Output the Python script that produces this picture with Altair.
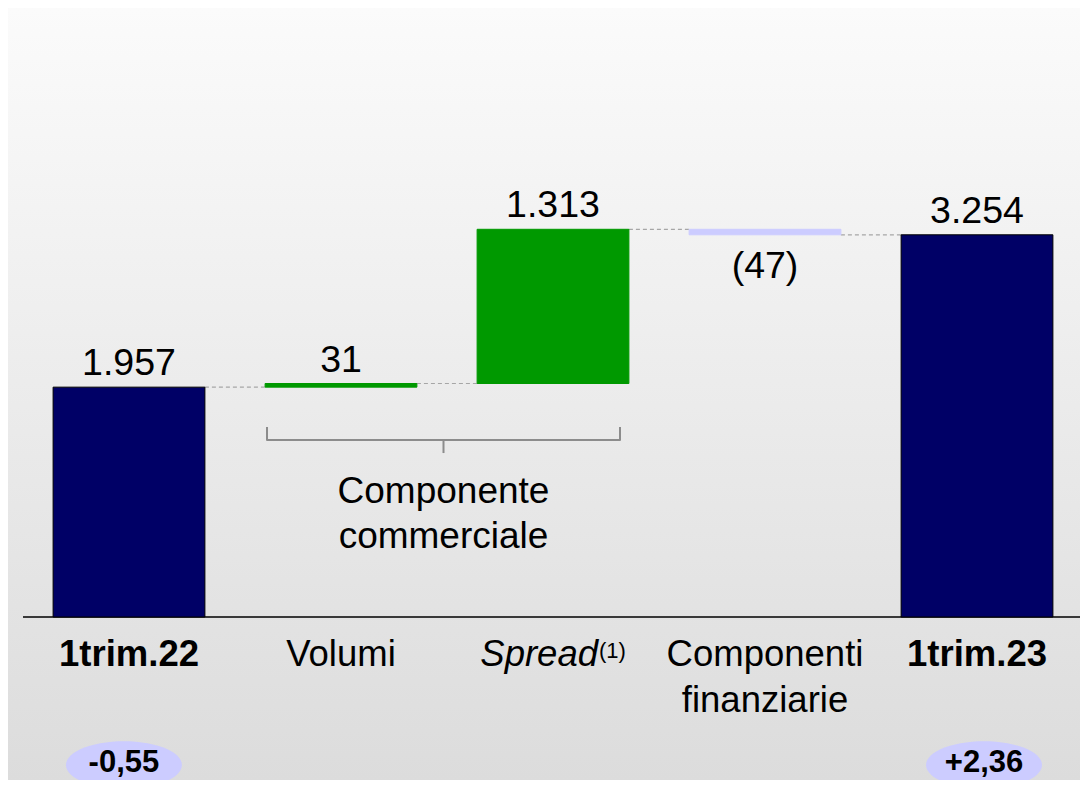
import altair as alt
import pandas as pd
import numpy as np

# ---------------- data ----------------
categories = ["1trim.22", "Volumi", "Spread", "Componenti finanziarie", "1trim.23"]
display_labels = ["1trim.22", "Volumi", "Spread", "Componenti\nfinanziarie", "1trim.23"]
values = [1957, 31, 1313, -47, 3254]
kinds = ["total", "delta", "delta", "delta", "total"]
value_labels = ["1.957", "31", "1.313", "(47)", "3.254"]
footnote_category = "Spread"
footnote_marker = "(1)"
group_label = "Componente\ncommerciale"
badge_categories = ["1trim.22", "1trim.23"]
badge_labels = ["-0,55", "+2,36"]

# ---------------- style / layout ----------------
FONT = "Liberation Sans"
HALF = 0.358                      # half bar width in category units
W, H = 1057, 609
X_DOMAIN = [-0.5, 4.4858]
Y_DOMAIN = [0, 5185]
xs = alt.Scale(domain=X_DOMAIN, nice=False, zero=False)
ys = alt.Scale(domain=Y_DOMAIN, nice=False, zero=False)
BADGE_SHIFT = {"1trim.22": -0.024, "1trim.23": 0.033}

# ---------------- derived tables ----------------
rows = []
running = 0
for i, (c, v, k, lab, disp) in enumerate(zip(categories, values, kinds, value_labels, display_labels)):
    if k == "total":
        start, end = 0, v
        kind = "total"
    else:
        start, end = running, running + v
        kind = "pos" if v >= 0 else "neg"
    running = end
    rows.append(dict(cat=c, disp=disp, idx=i, x0=i - HALF, x1=i + HALF,
                     start=start, end=end, top=max(start, end), bottom=min(start, end),
                     kind=kind, label=lab))
df = pd.DataFrame(rows)

conn = pd.DataFrame([
    dict(x0=rows[i]["idx"] + HALF, x1=rows[i + 1]["idx"] - HALF, y=rows[i]["end"])
    for i in range(len(rows) - 1)
])

# bracket under Volumi + Spread
bl, br = 0.651, 2.316
bm = (bl + br) / 2
bracket = pd.DataFrame([
    dict(seg="a", o=0, x=bl, y=1617), dict(seg="a", o=1, x=bl, y=1507),
    dict(seg="a", o=2, x=br, y=1507), dict(seg="a", o=3, x=br, y=1617),
    dict(seg="b", o=0, x=bm, y=1507), dict(seg="b", o=1, x=bm, y=1396),
])
group_df = pd.DataFrame([dict(x=bm, t=group_label)])

idx_of = {c: i for i, c in enumerate(categories)}
badges = pd.DataFrame([dict(x=idx_of[c] + BADGE_SHIFT[c], t=t) for c, t in zip(badge_categories, badge_labels)])
foot = pd.DataFrame([dict(x=idx_of[footnote_category], t=footnote_marker, name=footnote_category)])

# ellipse symbol path (unit box [-1,1])
ang = np.linspace(0, 2 * np.pi, 61)[:-1]
ell_path = "M" + " L".join(f"{np.cos(a):.4f},{0.41 * np.sin(a):.4f}" for a in ang) + " Z"

# ---------------- layers ----------------
bg = alt.Chart(pd.DataFrame([{"a": 1}])).mark_rect(
    color=alt.Gradient(gradient="linear",
                       stops=[alt.GradientStop(color="#fbfbfb", offset=0),
                              alt.GradientStop(color="#dcdcdc", offset=1)],
                       x1=0, x2=0, y1=0, y2=1)
).encode(x=alt.value(-15), x2=alt.value(W), y=alt.value(0), y2=alt.value(H + 163))

baseline = alt.Chart(pd.DataFrame([{"x0": X_DOMAIN[0], "x1": X_DOMAIN[1], "y": 0}])).mark_rule(
    color="#000000", strokeWidth=1.6
).encode(x=alt.X("x0:Q", scale=xs, axis=None), x2="x1:Q", y=alt.Y("y:Q", scale=ys, axis=None))

kind_dom = ["total", "pos", "neg"]
bars = alt.Chart(df).mark_rect(strokeWidth=1).encode(
    x=alt.X("x0:Q", scale=xs, axis=None), x2="x1:Q",
    y=alt.Y("start:Q", scale=ys, axis=None), y2="end:Q",
    fill=alt.Fill("kind:N", scale=alt.Scale(domain=kind_dom, range=["#000066", "#009900", "#ccccff"]), legend=None),
    stroke=alt.Stroke("kind:N", scale=alt.Scale(domain=kind_dom, range=["#000000", "#009900", "#ccccff"]), legend=None),
)

connectors = alt.Chart(conn).mark_rule(color="#a6a6a6", strokeWidth=1.2, strokeDash=[4, 3]).encode(
    x=alt.X("x0:Q", scale=xs, axis=None), x2="x1:Q", y=alt.Y("y:Q", scale=ys, axis=None)
)

pos_labels = alt.Chart(df).transform_filter("datum.kind != 'neg'").mark_text(
    font=FONT, fontSize=37.5, color="#000000", baseline="alphabetic", dy=-12
).encode(x=alt.X("idx:Q", scale=xs, axis=None), y=alt.Y("top:Q", scale=ys, axis=None), text="label:N")

neg_labels = alt.Chart(df).transform_filter("datum.kind == 'neg'").mark_text(
    font=FONT, fontSize=37.5, color="#000000", baseline="alphabetic", dy=43
).encode(x=alt.X("idx:Q", scale=xs, axis=None), y=alt.Y("bottom:Q", scale=ys, axis=None), text="label:N")

cat_bold = alt.Chart(df).transform_filter("datum.kind == 'total'").mark_text(
    font=FONT, fontSize=36.5, fontWeight="bold", color="#000000", baseline="alphabetic"
).encode(x=alt.X("idx:Q", scale=xs, axis=None), y=alt.value(658), text="disp:N")

cat_reg = alt.Chart(df).transform_filter(
    f"datum.kind != 'total' && datum.cat != '{footnote_category}'"
).mark_text(
    font=FONT, fontSize=36.5, color="#000000", baseline="alphabetic", lineBreak="\n", lineHeight=46
).encode(x=alt.X("idx:Q", scale=xs, axis=None), y=alt.value(658), text="disp:N")

cat_italic = alt.Chart(foot).mark_text(
    font=FONT, fontSize=36.5, fontStyle="italic", color="#000000", baseline="alphabetic", align="right", dx=45
).encode(x=alt.X("x:Q", scale=xs, axis=None), y=alt.value(658), text="name:N")

cat_sup = alt.Chart(foot).mark_text(
    font=FONT, fontSize=22, color="#000000", baseline="alphabetic", align="left", dx=46, dy=-8
).encode(x=alt.X("x:Q", scale=xs, axis=None), y=alt.value(658), text="t:N")

bracket_line = alt.Chart(bracket).mark_line(color="#8c8c8c", strokeWidth=2, strokeJoin="round").encode(
    x=alt.X("x:Q", scale=xs, axis=None), y=alt.Y("y:Q", scale=ys, axis=None),
    detail="seg:N", order="o:Q"
)

group_text = alt.Chart(group_df).mark_text(
    font=FONT, fontSize=37, color="#000000", baseline="alphabetic", lineBreak="\n", lineHeight=45
).encode(x=alt.X("x:Q", scale=xs, axis=None), y=alt.value(495), text="t:N")

badge_shape = alt.Chart(badges).mark_point(
    shape=ell_path, size=116 * 116, filled=True, fill="#ccccff", opacity=1, strokeWidth=0
).encode(x=alt.X("x:Q", scale=xs, axis=None), y=alt.value(757))

badge_text = alt.Chart(badges).mark_text(
    font=FONT, fontSize=31, fontWeight="bold", color="#000000", baseline="alphabetic"
).encode(x=alt.X("x:Q", scale=xs, axis=None), y=alt.value(764), text="t:N")

chart = alt.layer(
    bg, baseline, connectors, bars, pos_labels, neg_labels, cat_bold, cat_reg, cat_italic, cat_sup,
    bracket_line, group_text, badge_shape, badge_text
).properties(
    width=W, height=H,
    autosize=alt.AutoSizeParams(type="none"),
    padding={"left": 15, "right": 0, "top": 0, "bottom": 163},
).configure_view(stroke=None).configure(background="#fbfbfb")

chart.save("out.html", embed_options={"renderer": "svg", "actions": False})
